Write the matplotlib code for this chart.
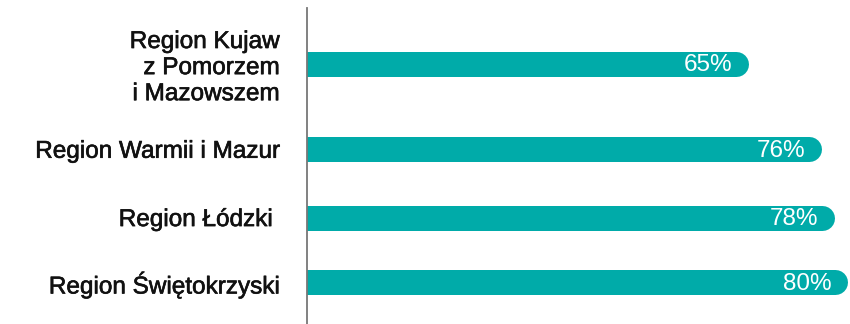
import matplotlib
matplotlib.use("Agg")
import matplotlib.pyplot as plt
import matplotlib.patheffects as pe

# dane
regiony = ["Region Kujaw\nz Pomorzem\ni Mazowszem",
           "Region Warmii i Mazur",
           "Region Łódzki ",
           "Region Świętokrzyski"]
wartosci = [65, 76, 78, 80]
etykiety = ["65%", "76%", "78%", "80%"]

# uklad (pozycje wierszy od gory)
pozycje = [0, 1.28, 2.3, 3.27]
kolor = "#00ABA9"
grubosc = 18  # pt, ~25 px

plt.rcParams['font.family'] = ['Liberation Sans', 'DejaVu Sans']

fig = plt.figure(figsize=(8.5, 3.24), dpi=100)
ax = fig.add_axes([307/850, 0, 543/850, 316/324])

# paski z zaokraglonym koncem; lewy koniec obciety przez osie
for p, v in zip(pozycje, wartosci):
    ax.plot([0, v], [p, p], color=kolor, lw=grubosc,
            solid_capstyle='round', clip_on=True)

for p, v, t in zip(pozycje, wartosci, etykiety):
    ax.annotate(t, xy=(v, p), xytext=(-3, -1), textcoords='offset points',
                ha='right', va='center', color='white', fontsize=17.5)

ax.set_xlim(0, 82.2)
ax.set_ylim(3.27 + 0.62, 0 - 0.83)
ax.set_yticks(pozycje)
ax.set_yticklabels(regiony, fontsize=17.5, color='#111111',
                   linespacing=1.24, ha='right')
for t in ax.get_yticklabels():
    t.set_path_effects([pe.withStroke(linewidth=0.45, foreground='#111111')])
ax.tick_params(axis='y', length=0, pad=20)
ax.set_xticks([])
for s in ['top', 'right', 'bottom']:
    ax.spines[s].set_visible(False)
ax.spines['left'].set_color('#777777')
ax.spines['left'].set_linewidth(1.3)

fig.savefig("out.png", dpi=100)
